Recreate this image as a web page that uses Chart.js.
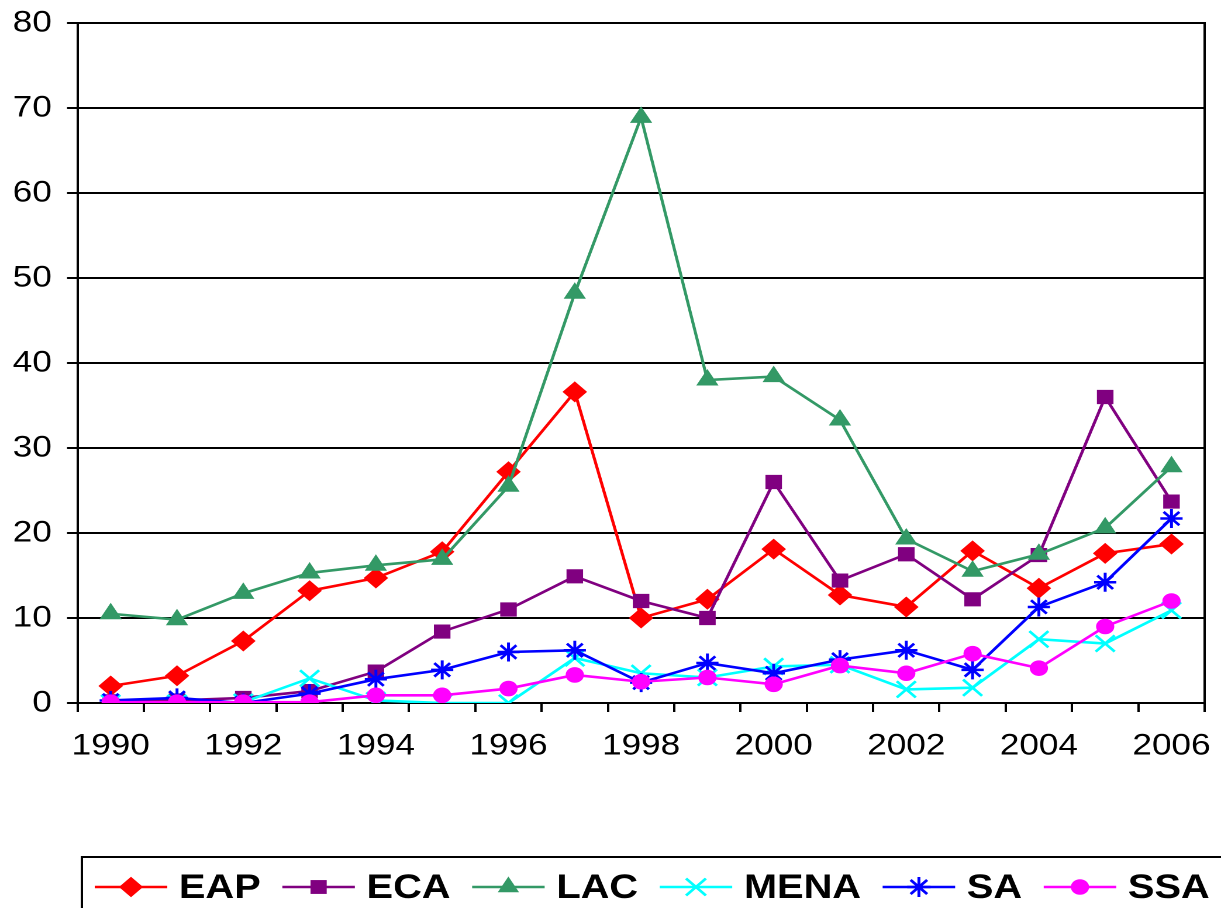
<!DOCTYPE html>
<html><head><meta charset="utf-8">
<script src="https://cdn.jsdelivr.net/npm/chart.js@4.4.0/dist/chart.umd.min.js"></script>
<style>
html,body{margin:0;padding:0;background:#fff;overflow:hidden;}
#wrap{width:1044px;height:908px;transform:scaleX(1.16954);transform-origin:0 0;}
canvas{display:block;}
</style></head><body>
<div id="wrap"><canvas id="c" width="1044" height="908" style="width:1044px;height:908px"></canvas></div>
<script>
const years = ['1990','1991','1992','1993','1994','1995','1996','1997','1998','1999','2000','2001','2002','2003','2004','2005','2006'];
const EAP  = [2.0, 3.2, 7.3, 13.2, 14.7, 17.8, 27.2, 36.6, 10.0, 12.2, 18.1, 12.7, 11.3, 17.9, 13.5, 17.6, 18.7];
const ECA  = [0.2, 0.3, 0.6, 1.4, 3.7, 8.4, 11.0, 14.9, 12.0, 10.0, 26.0, 14.4, 17.5, 12.2, 17.4, 36.0, 23.7];
const LAC  = [10.5, 9.8, 12.9, 15.3, 16.2, 16.9, 25.5, 48.2, 68.9, 38.0, 38.4, 33.3, 19.3, 15.5, 17.5, 20.6, 27.8];
const MENA = [0.0, 0.0, 0.1, 2.9, 0.3, 0.0, 0.0, 5.3, 3.5, 3.0, 4.3, 4.5, 1.6, 1.8, 7.5, 7.0, 10.9];
const SA   = [0.3, 0.6, 0.0, 1.1, 2.8, 3.9, 6.0, 6.2, 2.4, 4.7, 3.5, 5.1, 6.2, 3.9, 11.3, 14.2, 21.7];
const SSA  = [0.1, 0.1, 0.1, 0.1, 0.9, 0.9, 1.7, 3.3, 2.5, 3.0, 2.2, 4.4, 3.5, 5.8, 4.1, 9.0, 12.0];
const seriesNames = ['EAP','ECA','LAC','MENA','SA','SSA'];
const yTicks = [0,10,20,30,40,50,60,70,80];

const FONT = '"Liberation Sans", Arial, Helvetica, sans-serif';
const styles = [
  {color:'#FF0000', point:'rectRot',  r:9.8, bw:1},
  {color:'#800080', point:'rect',     r:9.3, bw:1},
  {color:'#339966', point:'triangle', r:10,  bw:1},
  {color:'#00FFFF', point:'crossRot', r:11.5,bw:2.5},
  {color:'#0000FF', point:'star',     r:9.5, bw:2.5},
  {color:'#FF00FF', point:'circle',   r:7.3, bw:1}
];
const values = [EAP, ECA, LAC, MENA, SA, SSA];

const datasets = seriesNames.map((n, i) => ({
  label: n,
  data: values[i],
  borderColor: styles[i].color,
  backgroundColor: styles[i].color,
  pointBackgroundColor: styles[i].color,
  pointBorderColor: styles[i].color,
  pointStyle: styles[i].point,
  pointRadius: styles[i].r,
  pointBorderWidth: styles[i].bw,
  borderWidth: 2.6,
  tension: 0,
  fill: false,
  order: seriesNames.length - i
}));

function marker(ctx, style, r, x, y, color) {
  ctx.save();
  ctx.fillStyle = color; ctx.strokeStyle = color; ctx.lineWidth = 2.5;
  ctx.beginPath();
  if (style === 'rectRot') {
    ctx.moveTo(x, y - r); ctx.lineTo(x + r, y); ctx.lineTo(x, y + r); ctx.lineTo(x - r, y); ctx.closePath(); ctx.fill();
  } else if (style === 'rect') {
    const h = r * Math.SQRT1_2; ctx.rect(x - h, y - h, 2 * h, 2 * h); ctx.fill();
  } else if (style === 'triangle') {
    ctx.moveTo(x, y - r); ctx.lineTo(x + r * 0.866, y + r / 2); ctx.lineTo(x - r * 0.866, y + r / 2); ctx.closePath(); ctx.fill();
  } else if (style === 'circle') {
    ctx.arc(x, y, r, 0, Math.PI * 2); ctx.fill();
  } else {
    const d = r * Math.SQRT1_2;
    ctx.moveTo(x - d, y - d); ctx.lineTo(x + d, y + d);
    ctx.moveTo(x - d, y + d); ctx.lineTo(x + d, y - d);
    if (style === 'star') { ctx.moveTo(x, y - r); ctx.lineTo(x, y + r); ctx.moveTo(x - r, y); ctx.lineTo(x + r, y); }
    ctx.stroke();
  }
  ctx.restore();
}

const boxLegend = {
  id: 'boxLegend',
  afterDraw(chart) {
    const ctx = chart.ctx;
    ctx.save();
    ctx.strokeStyle = '#000'; ctx.lineWidth = 2;
    ctx.strokeRect(70, 857, 1100, 200);
    ctx.font = 'bold 34px ' + FONT;
    ctx.textBaseline = 'alphabetic';
    ctx.textAlign = 'left';
    const ly = 887;
    let x = 81;
    chart.data.datasets.forEach((ds, i) => {
      const st = styles[i];
      ctx.strokeStyle = st.color; ctx.lineWidth = 2.5;
      ctx.beginPath(); ctx.moveTo(x, ly); ctx.lineTo(x + 62, ly); ctx.stroke();
      marker(ctx, st.point, st.r + 0.5, x + 31, ly, st.color);
      const tx = x + 72;
      ctx.fillStyle = '#000';
      ctx.fillText(ds.label, tx, 898);
      x = tx + ctx.measureText(ds.label).width + 18.5;
    });
    ctx.restore();
  }
};

function noPad(s) { s.paddingTop = 0; s.paddingBottom = 0; s.paddingLeft = 0; s.paddingRight = 0; }

new Chart(document.getElementById('c'), {
  type: 'line',
  data: { labels: years, datasets },
  options: {
    responsive: false,
    animation: false,
    devicePixelRatio: 2,
    layout: { padding: { top: 23, right: 9.4, left: 0, bottom: 0 } },
    plugins: { legend: { display: false }, tooltip: { enabled: false } },
    scales: {
      x: {
        type: 'category',
        offset: true,
        grid: { offset: true, drawOnChartArea: false, drawTicks: true, tickLength: 9, color: '#000', lineWidth: 2 },
        border: { display: true, color: '#000', width: 2 },
        ticks: {
          autoSkip: false, maxRotation: 0, minRotation: 0, padding: 16, color: '#000',
          font: { family: FONT, size: 30 },
          callback: function (v, i) { return i % 2 === 0 ? this.getLabelForValue(v) : ''; }
        },
        afterFit: s => { s.height = 205; noPad(s); }
      },
      y: {
        min: 0, max: 80,
        afterBuildTicks: s => { s.ticks = yTicks.map(v => ({ value: v })); },
        ticks: { padding: 13, color: '#000', font: { family: FONT, size: 30 } },
        grid: { color: '#000', lineWidth: 2, drawTicks: true, tickLength: 9 },
        border: { display: true, color: '#000', width: 2 },
        afterFit: s => { s.width = 66.3; noPad(s); }
      },
      y2: {
        position: 'right', min: 0, max: 80, display: true,
        ticks: { display: false },
        grid: { display: false, drawTicks: false },
        border: { display: true, color: '#000', width: 2 },
        afterFit: s => { s.width = 0; noPad(s); }
      }
    }
  },
  plugins: [boxLegend]
});
</script>
</body></html>
